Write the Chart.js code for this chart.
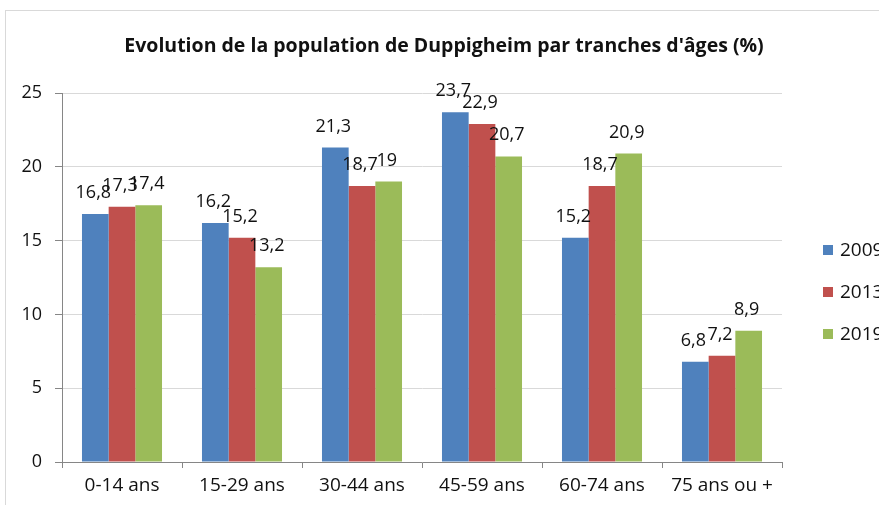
<!DOCTYPE html>
<html>
<head>
<meta charset="utf-8">
<script src="https://cdn.jsdelivr.net/npm/chart.js@4.4.0/dist/chart.umd.min.js"></script>
<style>
  body { margin: 0; background: #fff; }
  #wrap { position: relative; width: 879px; height: 505px; overflow: hidden; }
  #cadre { position: absolute; left: 5px; top: 10px; width: 1000px; height: 1000px; border: 1px solid #d9d9d9; }
  #graphique { position: absolute; left: 0; top: 0; }
</style>
</head>
<body>
<div id="wrap">
  <div id="cadre"></div>
  <canvas id="graphique" width="879" height="505"></canvas>
</div>
<script>
const titre = "Evolution de la population de Duppigheim par tranches d'âges (%)";
const tranches = ['0-14 ans', '15-29 ans', '30-44 ans', '45-59 ans', '60-74 ans', '75 ans ou +'];
const annees = ['2009', '2013', '2019'];
const val2009 = [16.8, 16.2, 21.3, 23.7, 15.2, 6.8];
const val2013 = [17.3, 15.2, 18.7, 22.9, 18.7, 7.2];
const val2019 = [17.4, 13.2, 19, 20.7, 20.9, 8.9];
const couleurs = ['#4F81BD', '#C0504D', '#9BBB59'];

const police = '"Open Sans", sans-serif';

// Etiquettes de données, titre et légende dessinés à la main
const dessinPerso = {
  id: 'dessinPerso',
  afterDatasetsDraw(chart) {
    const ctx = chart.ctx;
    ctx.save();
    ctx.font = '18px ' + police;
    ctx.fillStyle = '#111';
    ctx.textAlign = 'center';
    ctx.textBaseline = 'alphabetic';
    chart.data.datasets.forEach((ds, i) => {
      const meta = chart.getDatasetMeta(i);
      meta.data.forEach((bar, j) => {
        const txt = String(ds.data[j]).replace('.', ',');
        ctx.fillText(txt, bar.x - 2, bar.y - 16);
      });
    });
    ctx.restore();
  },
  afterDraw(chart) {
    const ctx = chart.ctx;
    ctx.save();
    // titre
    ctx.font = 'bold 19.5px ' + police;
    ctx.fillStyle = '#111';
    ctx.textAlign = 'center';
    ctx.textBaseline = 'middle';
    ctx.fillText(titre, 444, 46);
    // légende
    ctx.font = '19px ' + police;
    ctx.textAlign = 'left';
    chart.data.datasets.forEach((ds, i) => {
      const y = 250 + i * 42;
      ctx.fillStyle = ds.backgroundColor;
      ctx.fillRect(823, y - 5, 10, 10);
      ctx.fillStyle = '#111';
      ctx.fillText(ds.label, 840, y + 1);
    });
    ctx.restore();
  }
};

const ctx = document.getElementById('graphique').getContext('2d');
new Chart(ctx, {
  type: 'bar',
  data: {
    labels: tranches,
    datasets: [
      { label: annees[0], data: val2009, backgroundColor: couleurs[0] },
      { label: annees[1], data: val2013, backgroundColor: couleurs[1] },
      { label: annees[2], data: val2019, backgroundColor: couleurs[2] }
    ]
  },
  options: {
    responsive: false,
    animation: false,
    layout: { padding: { top: 93, right: 97, left: 0, bottom: 0 } },
    datasets: { bar: { categoryPercentage: 0.667, barPercentage: 1.0 } },
    plugins: {
      legend: { display: false },
      tooltip: { enabled: false }
    },
    scales: {
      x: {
        afterFit(scale) { scale.height = 43; },
        grid: { offset: true, drawOnChartArea: false, tickLength: 6, color: '#868686' },
        border: { color: '#868686' },
        ticks: { font: { size: 19, family: police }, color: '#111', padding: 6 }
      },
      y: {
        min: 0,
        max: 25,
        afterFit(scale) { scale.width = 62; },
        grid: { color: '#d9d9d9', tickColor: '#868686', tickLength: 7 },
        border: { color: '#868686' },
        ticks: { stepSize: 5, font: { size: 18, family: police }, color: '#111', padding: 13 }
      }
    }
  },
  plugins: [dessinPerso]
});
</script>
</body>
</html>
